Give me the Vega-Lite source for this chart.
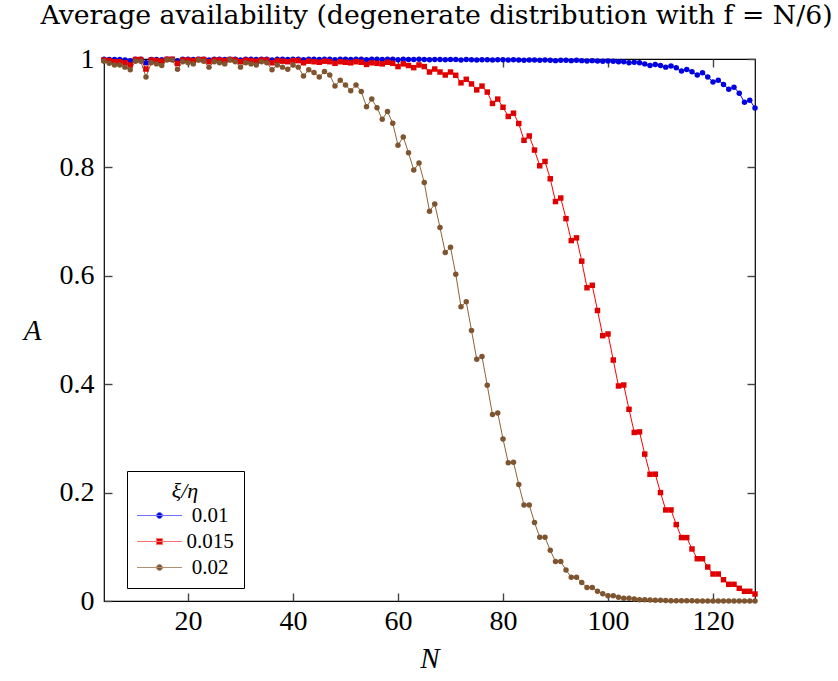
{
"$schema": "https://vega.github.io/schema/vega-lite/v6.json",
"width": 651, "height": 542,
"autosize": {"type": "none"},
"padding": {"left": 104, "top": 59, "right": 83, "bottom": 80},
"background": "white",
"title": {"text": "Average availability (degenerate distribution with f = N/6)", "font": "DejaVu Serif", "fontSize": 26.7, "fontWeight": "normal", "color": "#000", "offset": 15, "anchor": "middle", "dx": 7},
"config": {
 "view": {"stroke": "#000", "strokeWidth": 1.2},
 "axis": {"grid": false, "domain": false, "ticks": true, "zindex": 2, "offset": -8, "tickColor": "#444", "tickSize": 8, "tickWidth": 1.4, "tickOpacity": 1, "labelFont": "Liberation Serif", "labelFontSize": 28, "labelColor": "#000", "titleFont": "Liberation Serif", "titleFontSize": 29, "titleFontStyle": "italic", "titleFontWeight": "normal", "titleColor": "#000"}
},
"data": {"values": [
{"N":4,"s":"0.01","A":0.9995},{"N":5,"s":"0.01","A":0.999},{"N":6,"s":"0.01","A":0.999},{"N":7,"s":"0.01","A":0.999},{"N":8,"s":"0.01","A":0.998},{"N":9,"s":"0.01","A":0.997},{"N":10,"s":"0.01","A":0.9995},{"N":11,"s":"0.01","A":0.9995},{"N":12,"s":"0.01","A":0.993},{"N":13,"s":"0.01","A":0.999},{"N":14,"s":"0.01","A":0.999},{"N":15,"s":"0.01","A":0.9985},{"N":16,"s":"0.01","A":0.9995},{"N":17,"s":"0.01","A":0.9995},{"N":18,"s":"0.01","A":0.997},{"N":19,"s":"0.01","A":0.9995},{"N":20,"s":"0.01","A":0.9995},{"N":21,"s":"0.01","A":0.999},{"N":22,"s":"0.01","A":0.9995},{"N":23,"s":"0.01","A":0.9995},{"N":24,"s":"0.01","A":0.998},{"N":25,"s":"0.01","A":0.9995},{"N":26,"s":"0.01","A":0.9995},{"N":27,"s":"0.01","A":0.999},{"N":28,"s":"0.01","A":0.9995},{"N":29,"s":"0.01","A":0.9995},{"N":30,"s":"0.01","A":0.998},{"N":31,"s":"0.01","A":0.9995},{"N":32,"s":"0.01","A":0.9995},{"N":33,"s":"0.01","A":0.999},{"N":34,"s":"0.01","A":0.9995},{"N":35,"s":"0.01","A":0.9995},{"N":36,"s":"0.01","A":0.998},{"N":37,"s":"0.01","A":0.9995},{"N":38,"s":"0.01","A":0.9995},{"N":39,"s":"0.01","A":0.999},{"N":40,"s":"0.01","A":0.9995},{"N":41,"s":"0.01","A":0.9995},{"N":42,"s":"0.01","A":0.9985},{"N":43,"s":"0.01","A":0.9995},{"N":44,"s":"0.01","A":0.9995},{"N":45,"s":"0.01","A":0.999},{"N":46,"s":"0.01","A":0.9995},{"N":47,"s":"0.01","A":0.9995},{"N":48,"s":"0.01","A":0.9985},{"N":49,"s":"0.01","A":0.9995},{"N":50,"s":"0.01","A":0.9995},{"N":51,"s":"0.01","A":0.999},{"N":52,"s":"0.01","A":0.9995},{"N":53,"s":"0.01","A":0.9995},{"N":54,"s":"0.01","A":0.9985},{"N":55,"s":"0.01","A":0.9995},{"N":56,"s":"0.01","A":0.9995},{"N":57,"s":"0.01","A":0.999},{"N":58,"s":"0.01","A":0.9995},{"N":59,"s":"0.01","A":0.9995},{"N":60,"s":"0.01","A":0.9985},{"N":61,"s":"0.01","A":0.9995},{"N":62,"s":"0.01","A":0.999},{"N":63,"s":"0.01","A":0.999},{"N":64,"s":"0.01","A":0.9995},{"N":65,"s":"0.01","A":0.999},{"N":66,"s":"0.01","A":0.9985},{"N":67,"s":"0.01","A":0.999},{"N":68,"s":"0.01","A":0.999},{"N":69,"s":"0.01","A":0.9985},{"N":70,"s":"0.01","A":0.999},{"N":71,"s":"0.01","A":0.999},{"N":72,"s":"0.01","A":0.998},{"N":73,"s":"0.01","A":0.999},{"N":74,"s":"0.01","A":0.9985},{"N":75,"s":"0.01","A":0.998},{"N":76,"s":"0.01","A":0.9985},{"N":77,"s":"0.01","A":0.9985},{"N":78,"s":"0.01","A":0.998},{"N":79,"s":"0.01","A":0.9985},{"N":80,"s":"0.01","A":0.9985},{"N":81,"s":"0.01","A":0.998},{"N":82,"s":"0.01","A":0.9985},{"N":83,"s":"0.01","A":0.998},{"N":84,"s":"0.01","A":0.9975},{"N":85,"s":"0.01","A":0.998},{"N":86,"s":"0.01","A":0.998},{"N":87,"s":"0.01","A":0.9975},{"N":88,"s":"0.01","A":0.998},{"N":89,"s":"0.01","A":0.9975},{"N":90,"s":"0.01","A":0.997},{"N":91,"s":"0.01","A":0.9975},{"N":92,"s":"0.01","A":0.9975},{"N":93,"s":"0.01","A":0.997},{"N":94,"s":"0.01","A":0.9975},{"N":95,"s":"0.01","A":0.997},{"N":96,"s":"0.01","A":0.9965},{"N":97,"s":"0.01","A":0.997},{"N":98,"s":"0.01","A":0.9965},{"N":99,"s":"0.01","A":0.996},{"N":100,"s":"0.01","A":0.9965},{"N":101,"s":"0.01","A":0.996},{"N":102,"s":"0.01","A":0.995},{"N":103,"s":"0.01","A":0.995},{"N":104,"s":"0.01","A":0.993},{"N":105,"s":"0.01","A":0.994},{"N":106,"s":"0.01","A":0.993},{"N":107,"s":"0.01","A":0.991},{"N":108,"s":"0.01","A":0.988},{"N":109,"s":"0.01","A":0.99},{"N":110,"s":"0.01","A":0.988},{"N":111,"s":"0.01","A":0.985},{"N":112,"s":"0.01","A":0.987},{"N":113,"s":"0.01","A":0.984},{"N":114,"s":"0.01","A":0.978},{"N":115,"s":"0.01","A":0.9805},{"N":116,"s":"0.01","A":0.9765},{"N":117,"s":"0.01","A":0.9705},{"N":118,"s":"0.01","A":0.9745},{"N":119,"s":"0.01","A":0.967},{"N":120,"s":"0.01","A":0.9576},{"N":121,"s":"0.01","A":0.961},{"N":122,"s":"0.01","A":0.953},{"N":123,"s":"0.01","A":0.944},{"N":124,"s":"0.01","A":0.948},{"N":125,"s":"0.01","A":0.937},{"N":126,"s":"0.01","A":0.92},{"N":127,"s":"0.01","A":0.924},{"N":128,"s":"0.01","A":0.9096},
{"N":4,"s":"0.015","A":0.998},{"N":5,"s":"0.015","A":0.997},{"N":6,"s":"0.015","A":0.995},{"N":7,"s":"0.015","A":0.995},{"N":8,"s":"0.015","A":0.993},{"N":9,"s":"0.015","A":0.989},{"N":10,"s":"0.015","A":0.999},{"N":11,"s":"0.015","A":0.999},{"N":12,"s":"0.015","A":0.9815},{"N":13,"s":"0.015","A":0.998},{"N":14,"s":"0.015","A":0.997},{"N":15,"s":"0.015","A":0.996},{"N":16,"s":"0.015","A":0.9995},{"N":17,"s":"0.015","A":0.9995},{"N":18,"s":"0.015","A":0.992},{"N":19,"s":"0.015","A":0.998},{"N":20,"s":"0.015","A":0.998},{"N":21,"s":"0.015","A":0.997},{"N":22,"s":"0.015","A":0.999},{"N":23,"s":"0.015","A":0.999},{"N":24,"s":"0.015","A":0.995},{"N":25,"s":"0.015","A":0.998},{"N":26,"s":"0.015","A":0.998},{"N":27,"s":"0.015","A":0.997},{"N":28,"s":"0.015","A":0.999},{"N":29,"s":"0.015","A":0.998},{"N":30,"s":"0.015","A":0.995},{"N":31,"s":"0.015","A":0.998},{"N":32,"s":"0.015","A":0.997},{"N":33,"s":"0.015","A":0.996},{"N":34,"s":"0.015","A":0.998},{"N":35,"s":"0.015","A":0.998},{"N":36,"s":"0.015","A":0.993},{"N":37,"s":"0.015","A":0.997},{"N":38,"s":"0.015","A":0.996},{"N":39,"s":"0.015","A":0.995},{"N":40,"s":"0.015","A":0.997},{"N":41,"s":"0.015","A":0.997},{"N":42,"s":"0.015","A":0.993},{"N":43,"s":"0.015","A":0.996},{"N":44,"s":"0.015","A":0.995},{"N":45,"s":"0.015","A":0.994},{"N":46,"s":"0.015","A":0.996},{"N":47,"s":"0.015","A":0.995},{"N":48,"s":"0.015","A":0.992},{"N":49,"s":"0.015","A":0.995},{"N":50,"s":"0.015","A":0.994},{"N":51,"s":"0.015","A":0.993},{"N":52,"s":"0.015","A":0.995},{"N":53,"s":"0.015","A":0.994},{"N":54,"s":"0.015","A":0.99},{"N":55,"s":"0.015","A":0.993},{"N":56,"s":"0.015","A":0.992},{"N":57,"s":"0.015","A":0.991},{"N":58,"s":"0.015","A":0.994},{"N":59,"s":"0.015","A":0.992},{"N":60,"s":"0.015","A":0.986},{"N":61,"s":"0.015","A":0.991},{"N":62,"s":"0.015","A":0.988},{"N":63,"s":"0.015","A":0.984},{"N":64,"s":"0.015","A":0.989},{"N":65,"s":"0.015","A":0.986},{"N":66,"s":"0.015","A":0.976},{"N":67,"s":"0.015","A":0.9815},{"N":68,"s":"0.015","A":0.976},{"N":69,"s":"0.015","A":0.9705},{"N":70,"s":"0.015","A":0.976},{"N":71,"s":"0.015","A":0.97},{"N":72,"s":"0.015","A":0.956},{"N":73,"s":"0.015","A":0.9625},{"N":74,"s":"0.015","A":0.954},{"N":75,"s":"0.015","A":0.943},{"N":76,"s":"0.015","A":0.95},{"N":77,"s":"0.015","A":0.939},{"N":78,"s":"0.015","A":0.918},{"N":79,"s":"0.015","A":0.926},{"N":80,"s":"0.015","A":0.911},{"N":81,"s":"0.015","A":0.894},{"N":82,"s":"0.015","A":0.9},{"N":83,"s":"0.015","A":0.881},{"N":84,"s":"0.015","A":0.85},{"N":85,"s":"0.015","A":0.858},{"N":86,"s":"0.015","A":0.832},{"N":87,"s":"0.015","A":0.803},{"N":88,"s":"0.015","A":0.811},{"N":89,"s":"0.015","A":0.779},{"N":90,"s":"0.015","A":0.737},{"N":91,"s":"0.015","A":0.7435},{"N":92,"s":"0.015","A":0.7055},{"N":93,"s":"0.015","A":0.665},{"N":94,"s":"0.015","A":0.67},{"N":95,"s":"0.015","A":0.627},{"N":96,"s":"0.015","A":0.578},{"N":97,"s":"0.015","A":0.5825},{"N":98,"s":"0.015","A":0.536},{"N":99,"s":"0.015","A":0.4895},{"N":100,"s":"0.015","A":0.4926},{"N":101,"s":"0.015","A":0.4446},{"N":102,"s":"0.015","A":0.3967},{"N":103,"s":"0.015","A":0.3985},{"N":104,"s":"0.015","A":0.3537},{"N":105,"s":"0.015","A":0.311},{"N":106,"s":"0.015","A":0.312},{"N":107,"s":"0.015","A":0.271},{"N":108,"s":"0.015","A":0.2337},{"N":109,"s":"0.015","A":0.234},{"N":110,"s":"0.015","A":0.2},{"N":111,"s":"0.015","A":0.168},{"N":112,"s":"0.015","A":0.168},{"N":113,"s":"0.015","A":0.141},{"N":114,"s":"0.015","A":0.117},{"N":115,"s":"0.015","A":0.117},{"N":116,"s":"0.015","A":0.096},{"N":117,"s":"0.015","A":0.078},{"N":118,"s":"0.015","A":0.078},{"N":119,"s":"0.015","A":0.0627},{"N":120,"s":"0.015","A":0.0498},{"N":121,"s":"0.015","A":0.0498},{"N":122,"s":"0.015","A":0.0393},{"N":123,"s":"0.015","A":0.0308},{"N":124,"s":"0.015","A":0.0308},{"N":125,"s":"0.015","A":0.0234},{"N":126,"s":"0.015","A":0.0179},{"N":127,"s":"0.015","A":0.0179},{"N":128,"s":"0.015","A":0.0129},
{"N":4,"s":"0.02","A":0.996},{"N":5,"s":"0.02","A":0.992},{"N":6,"s":"0.02","A":0.989},{"N":7,"s":"0.02","A":0.989},{"N":8,"s":"0.02","A":0.985},{"N":9,"s":"0.02","A":0.98},{"N":10,"s":"0.02","A":0.996},{"N":11,"s":"0.02","A":0.996},{"N":12,"s":"0.02","A":0.967},{"N":13,"s":"0.02","A":0.993},{"N":14,"s":"0.02","A":0.991},{"N":15,"s":"0.02","A":0.988},{"N":16,"s":"0.02","A":0.998},{"N":17,"s":"0.02","A":0.998},{"N":18,"s":"0.02","A":0.981},{"N":19,"s":"0.02","A":0.995},{"N":20,"s":"0.02","A":0.993},{"N":21,"s":"0.02","A":0.991},{"N":22,"s":"0.02","A":0.998},{"N":23,"s":"0.02","A":0.996},{"N":24,"s":"0.02","A":0.985},{"N":25,"s":"0.02","A":0.995},{"N":26,"s":"0.02","A":0.993},{"N":27,"s":"0.02","A":0.991},{"N":28,"s":"0.02","A":0.998},{"N":29,"s":"0.02","A":0.995},{"N":30,"s":"0.02","A":0.985},{"N":31,"s":"0.02","A":0.993},{"N":32,"s":"0.02","A":0.991},{"N":33,"s":"0.02","A":0.989},{"N":34,"s":"0.02","A":0.995},{"N":35,"s":"0.02","A":0.993},{"N":36,"s":"0.02","A":0.98},{"N":37,"s":"0.02","A":0.989},{"N":38,"s":"0.02","A":0.985},{"N":39,"s":"0.02","A":0.981},{"N":40,"s":"0.02","A":0.989},{"N":41,"s":"0.02","A":0.985},{"N":42,"s":"0.02","A":0.9686},{"N":43,"s":"0.02","A":0.98},{"N":44,"s":"0.02","A":0.975},{"N":45,"s":"0.02","A":0.967},{"N":46,"s":"0.02","A":0.977},{"N":47,"s":"0.02","A":0.9705},{"N":48,"s":"0.02","A":0.95},{"N":49,"s":"0.02","A":0.961},{"N":50,"s":"0.02","A":0.952},{"N":51,"s":"0.02","A":0.9415},{"N":52,"s":"0.02","A":0.952},{"N":53,"s":"0.02","A":0.94},{"N":54,"s":"0.02","A":0.912},{"N":55,"s":"0.02","A":0.926},{"N":56,"s":"0.02","A":0.91},{"N":57,"s":"0.02","A":0.889},{"N":58,"s":"0.02","A":0.903},{"N":59,"s":"0.02","A":0.8815},{"N":60,"s":"0.02","A":0.841},{"N":61,"s":"0.02","A":0.856},{"N":62,"s":"0.02","A":0.827},{"N":63,"s":"0.02","A":0.795},{"N":64,"s":"0.02","A":0.808},{"N":65,"s":"0.02","A":0.772},{"N":66,"s":"0.02","A":0.719},{"N":67,"s":"0.02","A":0.7325},{"N":68,"s":"0.02","A":0.689},{"N":69,"s":"0.02","A":0.643},{"N":70,"s":"0.02","A":0.6525},{"N":71,"s":"0.02","A":0.603},{"N":72,"s":"0.02","A":0.543},{"N":73,"s":"0.02","A":0.552},{"N":74,"s":"0.02","A":0.499},{"N":75,"s":"0.02","A":0.446},{"N":76,"s":"0.02","A":0.451},{"N":77,"s":"0.02","A":0.398},{"N":78,"s":"0.02","A":0.344},{"N":79,"s":"0.02","A":0.347},{"N":80,"s":"0.02","A":0.299},{"N":81,"s":"0.02","A":0.255},{"N":82,"s":"0.02","A":0.256},{"N":83,"s":"0.02","A":0.215},{"N":84,"s":"0.02","A":0.177},{"N":85,"s":"0.02","A":0.177},{"N":86,"s":"0.02","A":0.145},{"N":87,"s":"0.02","A":0.1175},{"N":88,"s":"0.02","A":0.1175},{"N":89,"s":"0.02","A":0.0935},{"N":90,"s":"0.02","A":0.073},{"N":91,"s":"0.02","A":0.073},{"N":92,"s":"0.02","A":0.057},{"N":93,"s":"0.02","A":0.0437},{"N":94,"s":"0.02","A":0.0437},{"N":95,"s":"0.02","A":0.034},{"N":96,"s":"0.02","A":0.025},{"N":97,"s":"0.02","A":0.025},{"N":98,"s":"0.02","A":0.018},{"N":99,"s":"0.02","A":0.0135},{"N":100,"s":"0.02","A":0.0095},{"N":101,"s":"0.02","A":0.0095},{"N":102,"s":"0.02","A":0.007},{"N":103,"s":"0.02","A":0.005},{"N":104,"s":"0.02","A":0.005},{"N":105,"s":"0.02","A":0.0035},{"N":106,"s":"0.02","A":0.0025},{"N":107,"s":"0.02","A":0.0025},{"N":108,"s":"0.02","A":0.0018},{"N":109,"s":"0.02","A":0.0013},{"N":110,"s":"0.02","A":0.0013},{"N":111,"s":"0.02","A":0.0009},{"N":112,"s":"0.02","A":0.0006},{"N":113,"s":"0.02","A":0.0006},{"N":114,"s":"0.02","A":0.0004},{"N":115,"s":"0.02","A":0.0003},{"N":116,"s":"0.02","A":0.0003},{"N":117,"s":"0.02","A":0.0002},{"N":118,"s":"0.02","A":0.0001},{"N":119,"s":"0.02","A":0.0001},{"N":120,"s":"0.02","A":0.0001},{"N":121,"s":"0.02","A":0.00005},{"N":122,"s":"0.02","A":0.00005},{"N":123,"s":"0.02","A":0.00005},{"N":124,"s":"0.02","A":0.00003},{"N":125,"s":"0.02","A":0.00003},{"N":126,"s":"0.02","A":0.00002},{"N":127,"s":"0.02","A":0.00002},{"N":128,"s":"0.02","A":0.00001}
]},
"layer": [
 {"mark": {"type": "line", "strokeWidth": 1},
  "encoding": {
   "x": {"field": "N", "type": "quantitative", "scale": {"domain": [4, 128], "nice": false, "zero": false}, "axis": {"orient": "bottom", "values": [20, 40, 60, 80, 100, 120], "title": "N", "labelPadding": 6, "titlePadding": 9}},
   "y": {"field": "A", "type": "quantitative", "scale": {"domain": [0, 1], "nice": false}, "axis": {"orient": "left", "values": [0, 0.2, 0.4, 0.6, 0.8, 1], "format": "~g", "title": "A", "labelPadding": 10, "titleAngle": 0, "titleAlign": "center", "titleBaseline": "middle", "titleX": -80, "titleY": 271}},
   "color": {"field": "s", "type": "nominal", "scale": {"domain": ["0.01", "0.015", "0.02"], "range": ["#0000ff", "#ff0000", "#8f6237"]}, "legend": null}
  }},
 {"mark": {"type": "point", "filled": true, "opacity": 1, "size": 30},
  "encoding": {
   "x": {"field": "N", "type": "quantitative", "axis": {"orient": "top", "values": [20, 40, 60, 80, 100, 120], "labels": false, "title": null}},
   "y": {"field": "A", "type": "quantitative", "axis": {"orient": "right", "values": [0, 0.2, 0.4, 0.6, 0.8, 1], "labels": false, "title": null}},
   "fill": {"field": "s", "type": "nominal", "scale": {"domain": ["0.01", "0.015", "0.02"], "range": ["#0000e0", "#e00000", "#7f5530"]}, "legend": null},
   "shape": {"field": "s", "type": "nominal", "scale": {"domain": ["0.01", "0.015", "0.02"], "range": ["circle", "square", "circle"]}, "legend": null}
  }},
 {"transform": [{"filter": "datum.N == 4"}],
  "mark": {"type": "point", "filled": true, "opacity": 0, "strokeWidth": 1},
  "encoding": {
   "x": {"field": "N", "type": "quantitative", "axis": null},
   "y": {"field": "A", "type": "quantitative", "axis": null},
   "shape": {"field": "s", "type": "nominal", "scale": {"domain": ["0.01", "0.015", "0.02"], "range": ["M-2.25,0H2.25M0.3,0A0.3,0.3 0 1,1 -0.3,0A0.3,0.3 0 1,1 0.3,0", "M-2.25,0H2.25M-0.3,-0.3H0.3V0.3H-0.3Z", "M-2.25,0H2.25M0.3,0A0.3,0.3 0 1,1 -0.3,0A0.3,0.3 0 1,1 0.3,0"]},
    "legend": {"orient": "none", "legendX": 23, "legendY": 412, "title": "ξ/η", "titleFont": "Liberation Serif", "titleFontStyle": "italic", "titleFontSize": 22, "titleFontWeight": "normal", "titleColor": "#000", "titleAnchor": "middle", "titleAlign": "center", "titlePadding": 2, "labelFont": "Liberation Serif", "labelFontSize": 21, "labelColor": "#000", "labelAlign": "center", "labelOffset": 40, "symbolSize": 400, "symbolOffset": 12, "symbolStrokeWidth": 1, "symbolOpacity": 1, "padding": 10, "rowPadding": 4, "strokeColor": "#000", "fillColor": "#fff", "cornerRadius": 0}},
   "fill": {"field": "s", "type": "nominal", "scale": {"domain": ["0.01", "0.015", "0.02"], "range": ["#0000e0", "#e00000", "#7f5530"]}},
   "stroke": {"field": "s", "type": "nominal", "scale": {"domain": ["0.01", "0.015", "0.02"], "range": ["#7070ff", "#ff7070", "#b09070"]}}
  }}
],
"resolve": {"axis": {"x": "independent", "y": "independent"}, "scale": {"shape": "independent", "fill": "independent", "stroke": "independent"}}
}
